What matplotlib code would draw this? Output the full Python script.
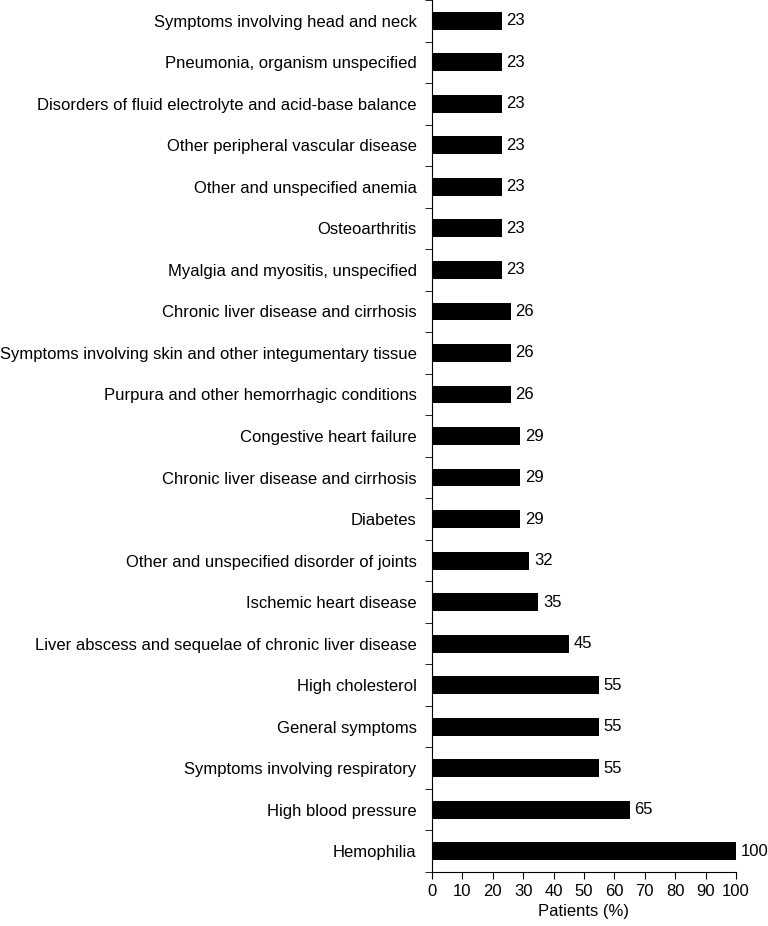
import matplotlib.pyplot as plt
import numpy as np

plt.rcParams['font.family'] = ['Liberation Sans', 'DejaVu Sans']

# categories listed bottom to top
categories = [
    "Hemophilia",
    "High blood pressure",
    "Symptoms involving respiratory",
    "General symptoms",
    "High cholesterol",
    "Liver abscess and sequelae of chronic liver disease",
    "Ischemic heart disease",
    "Other and unspecified disorder of joints",
    "Diabetes",
    "Chronic liver disease and cirrhosis",
    "Congestive heart failure",
    "Purpura and other hemorrhagic conditions",
    "Symptoms involving skin and other integumentary tissue",
    "Chronic liver disease and cirrhosis",
    "Myalgia and myositis, unspecified",
    "Osteoarthritis",
    "Other and unspecified anemia",
    "Other peripheral vascular disease",
    "Disorders of fluid electrolyte and acid-base balance",
    "Pneumonia, organism unspecified",
    "Symptoms involving head and neck",
]
values = [100, 65, 55, 55, 55, 45, 35, 32, 29, 29, 29, 26, 26, 26, 23, 23, 23, 23, 23, 23, 23]
x_ticks = list(range(0, 101, 10))

fig = plt.figure(figsize=(7.68, 9.26), dpi=100)
ax = fig.add_axes([0.5625, 0.0583, 0.3958, 0.9417])

pos = np.arange(len(categories))
ax.barh(pos, values, height=0.43, color='black')

for p, v in zip(pos, values):
    ax.text(v + 1.5, p, str(v), va='center', ha='left', fontsize=12)

ax.set_xlim(0, 100)
ax.set_ylim(-0.5, len(categories) - 0.5)
ax.set_xticks(x_ticks)
ax.set_xlabel("Patients (%)", fontsize=12)

# labels at bar centres, tick marks between bars
ax.set_yticks(pos)
ax.set_yticklabels(categories, fontsize=12)
ax.tick_params(axis='y', which='major', length=0, pad=11)
ax.set_yticks(np.arange(-0.5, len(categories), 1.0), minor=True)
ax.tick_params(axis='y', which='minor', length=5, direction='out')
ax.tick_params(axis='x', length=5, direction='out', labelsize=12)

for s in ['top', 'right']:
    ax.spines[s].set_visible(False)

fig.savefig('out.png', dpi=100)
